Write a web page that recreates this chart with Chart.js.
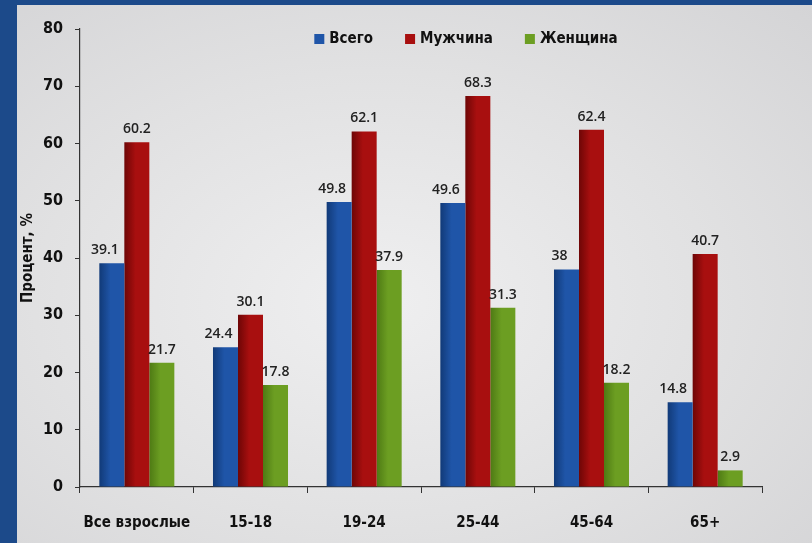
<!DOCTYPE html>
<html>
<head>
<meta charset="utf-8">
<script src="https://cdn.jsdelivr.net/npm/chart.js@4.4.1/dist/chart.umd.min.js"></script>
<style>
  html, body { margin: 0; padding: 0; }
  body { width: 812px; height: 543px; background: #1c4a8a; overflow: hidden; position: relative; }
  #panel {
    position: absolute; left: 17px; top: 5px; width: 795px; height: 538px;
    background: radial-gradient(ellipse at 45% 55%, #efeff0 0%, #e1e1e2 55%, #d4d4d6 100%);
  }
  #panel canvas { display: block; }
</style>
</head>
<body>
<div id="panel"><canvas id="chart"></canvas></div>
<script>
const categories = ['Все взрослые', '15-18', '19-24', '25-44', '45-64', '65+'];
const seriesNames = ['Всего', 'Мужчина', 'Женщина'];
const totalValues = [39.1, 24.4, 49.8, 49.6, 38, 14.8];
const maleValues = [60.2, 30.1, 62.1, 68.3, 62.4, 40.7];
const femaleValues = [21.7, 17.8, 37.9, 31.3, 18.2, 2.9];
const yTicks = [0, 10, 20, 30, 40, 50, 60, 70, 80];

const narrow = "'Liberation Sans Narrow', 'DejaVu Sans Condensed', sans-serif";
const colors = [
    { base: '#1f55a8', dark: '#113a78' },
    { base: '#a80f0f', dark: '#6e0606' },
    { base: '#6c9e22', dark: '#4e7a14' }
];

// горизонтальный градиент на каждом столбце
function barFill(c) {
    return (ctx) => {
        const el = ctx.element;
        if (!el || !isFinite(el.x) || !el.width) return c.base;
        const g = ctx.chart.ctx.createLinearGradient(el.x - el.width / 2, 0, el.x + el.width / 2, 0);
        g.addColorStop(0, c.dark);
        g.addColorStop(0.45, c.base);
        g.addColorStop(1, c.base);
        return g;
    };
}

// подписи значений над столбцами
const valueLabels = {
    id: 'valueLabels',
    afterDatasetsDraw(chart) {
        const ctx = chart.ctx;
        ctx.save();
        ctx.font = "600 14px 'Open Sans', sans-serif";
        ctx.fillStyle = '#222';
        ctx.textAlign = 'center';
        ctx.textBaseline = 'bottom';
        chart.data.datasets.forEach((ds, di) => {
            const meta = chart.getDatasetMeta(di);
            const shift = di === 0 ? -7 : 0;
            meta.data.forEach((bar, i) => {
                ctx.fillText(String(ds.data[i]), bar.x + shift, bar.y - 6);
            });
        });
        ctx.restore();
    }
};

// легенда внутри области графика
const floatLegend = {
    id: 'floatLegend',
    afterDraw(chart) {
        const ctx = chart.ctx;
        ctx.save();
        ctx.font = 'bold 15px ' + narrow;
        ctx.textBaseline = 'middle';
        const box = 10, gap = 5, spacing = 32;
        const widths = chart.data.datasets.map(ds => ctx.measureText(ds.label).width);
        const total = widths.reduce((a, w) => a + box + gap + w, 0) + spacing * (widths.length - 1);
        let x = 449 - total / 2;
        const y = 34;
        chart.data.datasets.forEach((ds, i) => {
            ctx.fillStyle = colors[i].base;
            ctx.fillRect(x, y - box / 2, box, box);
            x += box + gap;
            ctx.fillStyle = '#111';
            ctx.fillText(ds.label, x, y);
            x += widths[i] + spacing;
        });
        ctx.restore();
    }
};

const chart = new Chart(document.getElementById('chart'), {
    type: 'bar',
    data: {
        labels: categories,
        datasets: [
            { label: seriesNames[0], data: totalValues, backgroundColor: barFill(colors[0]) },
            { label: seriesNames[1], data: maleValues, backgroundColor: barFill(colors[1]) },
            { label: seriesNames[2], data: femaleValues, backgroundColor: barFill(colors[2]) }
        ]
    },
    options: {
        responsive: true,
        maintainAspectRatio: false,
        animation: false,
        datasets: { bar: { categoryPercentage: 0.66, barPercentage: 1.0, borderWidth: 0 } },
        layout: { padding: { top: 24, right: 50, left: 0, bottom: 0 } },
        plugins: {
            legend: { display: false },
            tooltip: { enabled: false }
        },
        scales: {
            x: {
                grid: { drawOnChartArea: false, drawTicks: true, tickLength: 6, color: '#333', offset: true },
                border: { display: true, color: '#333', width: 1.2 },
                ticks: {
                    color: '#111', padding: 21, maxRotation: 0, minRotation: 0, autoSkip: false,
                    font: { family: narrow, size: 15, weight: 'bold' }
                },
                afterFit: (s) => { s.height = 56; }
            },
            y: {
                min: 0,
                max: 80,
                afterBuildTicks: (s) => { s.ticks = yTicks.map(v => ({ value: v })); },
                grid: { drawOnChartArea: false, drawTicks: true, tickLength: 5, color: '#333' },
                border: { display: true, color: '#333', width: 1.2 },
                ticks: { color: '#111', padding: 12, font: { family: narrow, size: 16, weight: 'bold' } },
                title: {
                    display: true,
                    text: 'Процент, %',
                    color: '#111',
                    padding: { top: 2, bottom: 0 },
                    font: { family: narrow, size: 15, weight: 'bold' }
                },
                afterFit: (s) => { s.width = 63; }
            }
        }
    },
    plugins: [valueLabels, floatLegend]
});
chart.update('none');
</script>
</body>
</html>
